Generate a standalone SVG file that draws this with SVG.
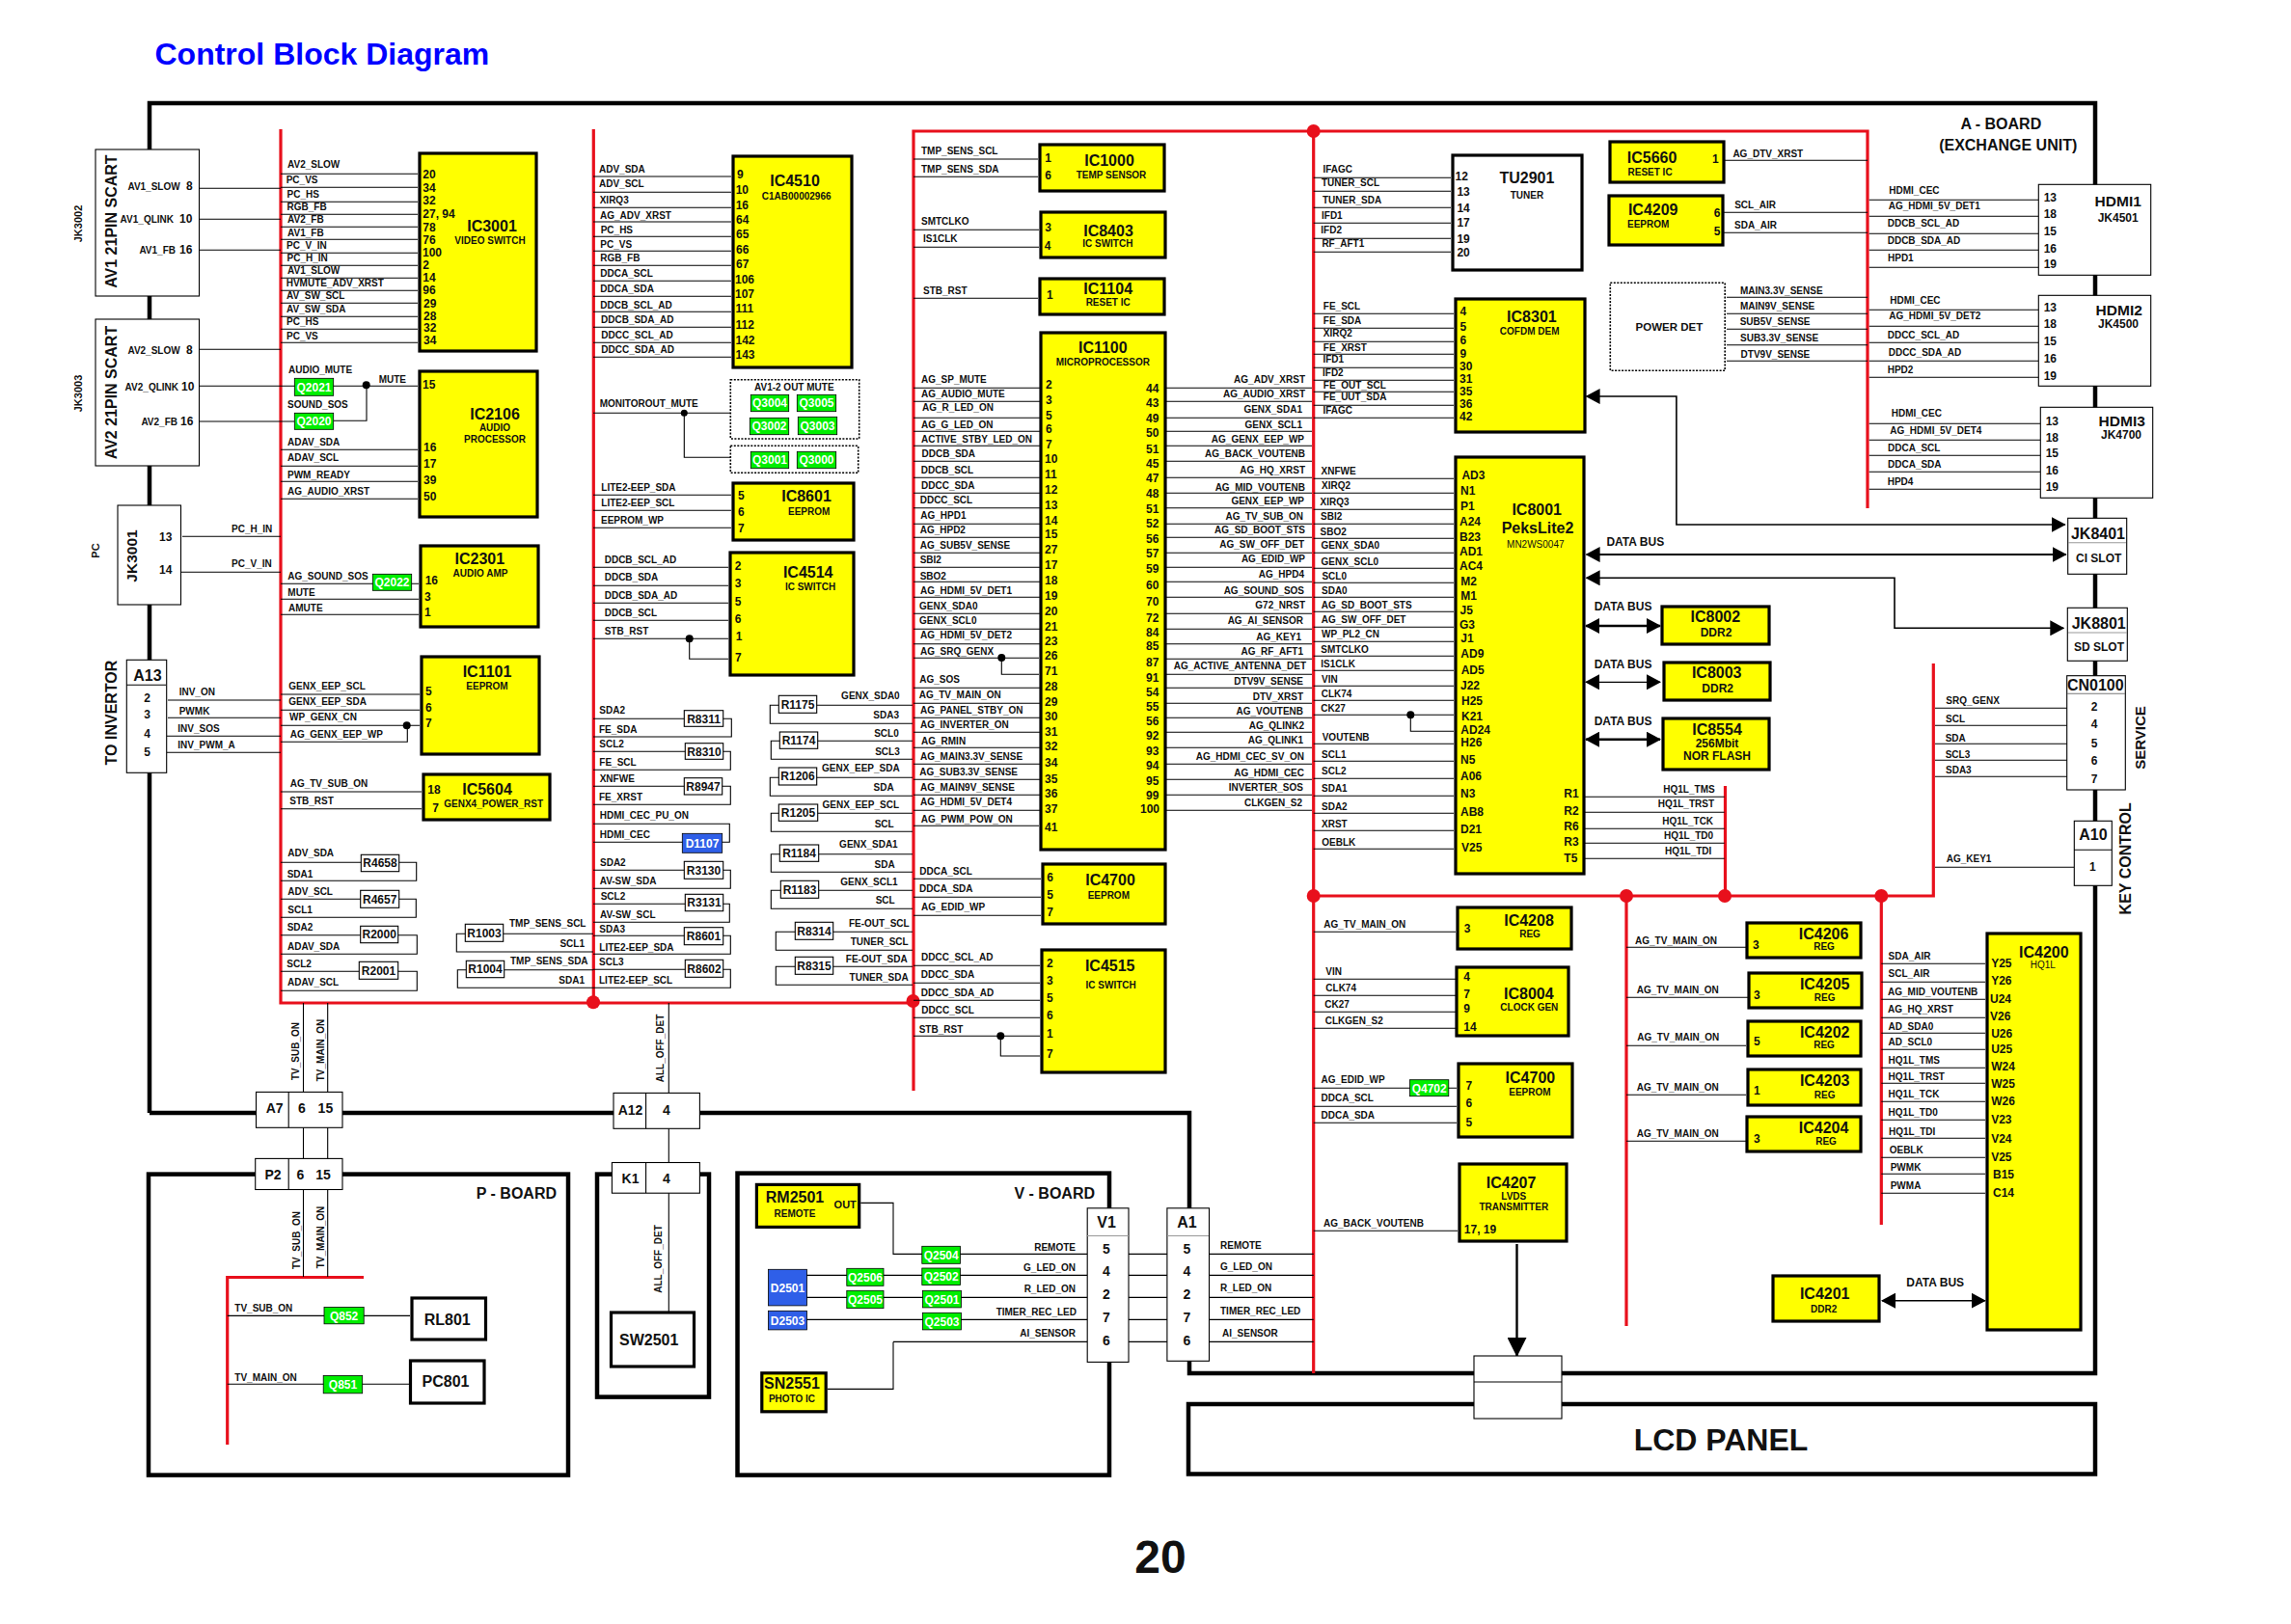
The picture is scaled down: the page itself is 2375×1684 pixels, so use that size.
<svg xmlns="http://www.w3.org/2000/svg" width="2375" height="1684" viewBox="0 0 2375 1684">
<style>
text{font-family:"Liberation Sans",Arial,sans-serif;font-weight:700;fill:#111}
.thin{fill:none;stroke:#000;stroke-width:1.1}
.fr{fill:none;stroke:#000;stroke-width:4.5}
.red{fill:none;stroke:#e8101c;stroke-width:3.2}
.rd{fill:#e8101c}
.d{fill:#000}
.ic{fill:#ff0;stroke:#000;stroke-width:3.2}
.wb{fill:#fff;stroke:#000;stroke-width:3.2}
.cb{fill:#fff;stroke:#000;stroke-width:1.1}
.dot{fill:none;stroke:#000;stroke-width:1.6;stroke-dasharray:2 1.5}
.q{fill:#0e0;stroke:#000;stroke-width:.8}
.b{fill:#2f5fe8;stroke:#000;stroke-width:.8}
.l{font-size:10px}
.p{font-size:12px}
.t{font-size:16px}
.s{font-size:10px}
.n{font-size:10px;font-weight:400}
.c{text-anchor:middle}
.e{text-anchor:end}
.qt{font-size:12px;fill:#fff;text-anchor:middle}
.r{font-size:12px;text-anchor:middle}
.h{font-size:12px}
.bt{font-size:16px}
.arrow{fill:none;stroke:#000;stroke-width:1.6;marker-end:url(#a);marker-start:url(#a)}
.arrow2{fill:none;stroke:#000;stroke-width:2.4;marker-end:url(#a);marker-start:url(#a)}
</style>
<defs>
<marker id="a" viewBox="0 0 15 16" refX="14" refY="8" markerWidth="15" markerHeight="16" markerUnits="userSpaceOnUse" orient="auto-start-reverse"><path d="M0 0L15 8L0 16Z"/></marker>
<marker id="b" viewBox="0 0 20 20" refX="19" refY="10" markerWidth="20" markerHeight="20" markerUnits="userSpaceOnUse" orient="auto"><path d="M0 0L20 10L0 20Z"/></marker>
</defs>
<rect width="2375" height="1684" fill="#fff"/>
<text x="160.5" y="66.6" style="font-size:32px;fill:#00f">Control Block Diagram</text>
<text x="1203" y="1631" class="c" style="font-size:48px">20</text>
<text x="2074.3" y="134" class="c bt">A - BOARD</text>
<text x="2081.7" y="156" class="c bt">(EXCHANGE UNIT)</text>
<text x="577" y="1243" class="e bt">P - BOARD</text>
<text x="1135" y="1243" class="e bt">V - BOARD</text>
<g id="connectors">
<path class="fr" d="M155 1154V107H2172V1424H1233V1405M1233 1260V1154H155"/>
<rect class="fr" x="1232" y="1456" width="940" height="72.5"/>
<rect class="fr" x="154" y="1217.6" width="435" height="312"/>
<rect class="fr" x="619" y="1217.6" width="116" height="231"/>
<rect class="fr" x="764.5" y="1216.6" width="385.5" height="313"/>
<path class="red" d="M291 134V1040H946.7M615.3 134V1040M947 1131V136H1936V527M1361.7 136V1424M1361.7 929H2004.3V688M1686 929V1375M1788.5 929V815M1950.3 929V1270M235.7 1498V1324.5H377"/>
<g class="rd"><circle cx="615" cy="1039.3" r="7"/><circle cx="946.5" cy="1038" r="7"/><circle cx="1361.7" cy="136" r="7"/><circle cx="1361.7" cy="929" r="7"/><circle cx="1686" cy="929" r="7"/><circle cx="1788" cy="929" r="7"/><circle cx="1950.3" cy="929" r="7"/></g>
<g class="d"><circle cx="379.7" cy="399.3" r="4"/><circle cx="421.7" cy="752.3" r="4"/><circle cx="709.3" cy="428.3" r="3.5"/><circle cx="714.7" cy="662.3" r="4"/><circle cx="1038.3" cy="682" r="4"/><circle cx="1037.3" cy="1074.3" r="4"/><circle cx="1462.3" cy="741.3" r="4"/></g>
<path class="thin" d="M207 195.3H291M207 227.3H291M207 259.3H291M207 362.3H291M207 400.3H433M207 437H305M346 436.3H380V400M189 556.3H291M188 593.3H291M174 726H291M174 744.3H291M173 763.3H291M173 780.3H291
M291 180.3H433M291 194.3H433M291 209.3H433M291 222.3H433M291 235.3H433M291 248.3H433M291 262.3H433M291 275.3H433M291 288.3H433M291 301.3H433M291 314.3H433M291 328.3H433M291 341.3H433M291 355.3H433
M291 466.3H433M291 483.3H433M291 499.3H433M291 517.3H433M291 605.3H434M291 621.3H434M291 637.3H434M291 720H435M291 736.3H435M291 752.3H435M291 769.3H422.3V752.3M291 821H437M291 838.7H437
M291 894.3H431.7V913.3H291M291 932.3H431.3V951.3H291M291 969.7H432.3V989.3H291M291 1007.3H432.3V1027.3H291
M615 968.3H473.3V987H615M615 1005.7H474.3V1024.3H615
M615 183H758M615 199.3H758M615 215.3H758M615 230H758M615 245.3H758M615 260.3H758M615 275.3H758M615 291.3H758M615 307.3H758M615 323.3H758M615 339.3H758M615 355.3H758M615 370.3H758
M615 428.3H757M709.3 428.3V474.3H757M615 513.3H758M615 529.3H758M615 547.3H758M615 588.3H755M615 607.3H755M615 625.3H755M615 643.3H755M615 662.3H755M714.7 662.3V683.3H755
M615 745.3H758.3V764H615M615 779.3H757.3V798.3H615M615 815.3H757.3V834.3H615M615 854.3H756.3V873.3H615M615 902.3H757.3V921.3H615M615 937.3H756.3V956.3H615M615 970.3H757.3V989.3H615M615 1005.3H757.3V1024.3H615
M946 731.3H798.3V750.3H946M946 768.3H799.3V787.3H946M946 806.3H798.3V825.3H946M946 843.3H799.3V862.3H946M946 885.7H799.3V904.3H946M946 923.3H799.3V942.3H946M946 966.3H804.3V985.3H946M946 1002.3H804.3V1021.3H946
M947 165H1076M947 183.3H1076M947 238.3H1077M947 256.3H1077M947 309.3H1076
M947 402.3H1360M947 416.3H1360M947 433.3H1360M947 447.3H1360M947 462.3H1360M947 478.3H1360M947 495.3H1360M947 511.3H1360M947 526.7H1360M947 543.3H1360M947 557.3H1360M947 573.3H1360M947 588.3H1360M947 603.3H1360M947 619.3H1360M947 636.3H1360M947 652.3H1360M947 667.7H1360M947 682.3H1077M1038.3 682.3V699.3H1077M1209 683.3H1360M1209 699.3H1360M947 713.3H1360M947 729.3H1360M947 744.3H1360M947 759.3H1360M947 775.3H1360M947 792.3H1360M947 808.3H1360M947 824.3H1360M947 840.3H1360M947 856.3H1077
M947 911.3H1079M947 930.3H1079M947 949.3H1079M947 1001.3H1078M947 1019.3H1078M947 1037.3H1078M947 1055.3H1078M947 1074.3H1078M1037.3 1074.3V1095H1078
M1361.7 184.3H1504M1361.7 198.3H1504M1361.7 215.3H1504M1361.7 231.3H1504M1361.7 247.3H1504M1361.7 261.3H1504
M1788 166.3H1936M1787 220.3H1936M1787 241.3H1936M1790 308.3H1936M1790 325.3H1936M1790 341.3H1936M1790 357.7H1936M1790 374.3H1936
M1361.7 325.3H1507M1361.7 340.3H1507M1361.7 354.3H1507M1361.7 367.3H1507M1361.7 381.3H1507M1361.7 394.3H1507M1361.7 406.3H1507M1361.7 420.3H1507M1361.7 433.3H1507
M1361.7 496.3H1507M1361.7 511.3H1507M1361.7 528.3H1507M1361.7 543.3H1507M1361.7 558.3H1507M1361.7 573.3H1507M1361.7 589.3H1507M1361.7 604.3H1507M1361.7 619.3H1507M1361.7 634.3H1507M1361.7 650.3H1507M1361.7 665.3H1507M1361.7 680.3H1507M1361.7 695.3H1507M1361.7 711.3H1507M1361.7 726.3H1507M1361.7 741.3H1507M1462.3 741.3V758.3H1507M1361.7 771.3H1507M1361.7 789.3H1507M1361.7 807.3H1507M1361.7 825.3H1507M1361.7 843.3H1507M1361.7 861.3H1507M1361.7 880.3H1507
M1643 826.3H1787.7M1643 842.3H1787.7M1643 859.3H1787.7M1643 874.3H1787.7M1643 890.3H1787.7
M1361.7 966.3H1509M1361.7 1015.3H1509M1361.7 1032.3H1509M1361.7 1049.3H1509M1361.7 1066.3H1509M1361.7 1128.3H1510M1361.7 1147.3H1510M1361.7 1164.3H1510M1361.7 1276.3H1511
M1686 982.3H1810M1686 1034.3H1812M1686 1084.3H1810M1686 1135.3H1810M1686 1183.3H1810
M1950.3 999.3H2058M1950.3 1018.3H2058M1950.3 1036.3H2058M1950.3 1055.3H2058M1950.3 1071.3H2058M1950.3 1088.3H2058M1950.3 1107.3H2058M1950.3 1123.3H2058M1950.3 1142.3H2058M1950.3 1161.3H2058M1950.3 1180.3H2058M1950.3 1200.3H2058M1950.3 1217.3H2058M1950.3 1237.3H2058
M1937.7 207.3H2113M1937.7 224.3H2113M1937.7 242.3H2113M1937.7 259.3H2113M1937.7 277.3H2113M1937.7 321.3H2113M1937.7 338.3H2113M1937.7 355.3H2113M1937.7 374.3H2113M1937.7 391.3H2113M1937.7 439.3H2115M1937.7 456.3H2115M1937.7 472.3H2115M1937.7 489.3H2115M1937.7 507.3H2115
M2006 734.3H2143M2006 752.3H2143M2006 771.3H2143M2006 788.3H2143M2006 805.3H2143M2006 899.3H2150
M314.5 1040V1132M339.7 1040V1132M314.5 1169V1201M339.7 1169V1201M314.5 1233V1324M339.7 1233V1324M693.3 1040V1133M693.3 1170V1205M693.3 1237V1360
M235.7 1364.4H425M235.7 1435.3H424
M892.3 1247.4H926V1300.4H1127M836 1322.4H1127M836 1345.4H1127M836 1368.4H1127M926 1391.4H1127M926 1391.4V1440.4H857.8M1170 1300.4H1210M1170 1322.4H1210M1170 1345.4H1210M1170 1368.4H1210M1170 1391.4H1210M1253 1300.4H1361.7M1253 1322.4H1361.7M1253 1345.4H1361.7M1253 1368.4H1361.7M1253 1391.4H1361.7"/>
<path class="arrow" d="M2140.7 544H1737.9V411H1644.6"/>
<path class="arrow2" d="M1644.6 575H2141.7" style="stroke-width:2"/>
<path class="arrow" d="M1644.6 599.3H1964V651.3H2139.3"/>
<path class="arrow2" d="M1644 649H1721"/>
<path class="arrow2" d="M1644 707.3H1721" style="stroke-width:1.2"/>
<path class="arrow2" d="M1644 766.7H1721"/>
<path class="arrow2" d="M1951 1348.7H2057.8" style="stroke-width:1.6"/>
<path d="M1572.5 1290V1406" style="fill:none;stroke:#000;stroke-width:2.4;marker-end:url(#b)"/>
<g class="l">
<text x="298" y="174">AV2_SLOW</text><text x="296.7" y="190">PC_VS</text><text x="297.5" y="205">PC_HS</text><text x="297.5" y="218.3">RGB_FB</text><text x="298" y="231.3">AV2_FB</text><text x="298" y="245.3">AV1_FB</text><text x="297" y="258.3">PC_V_IN</text><text x="297.5" y="271.3">PC_H_IN</text><text x="298" y="284.3">AV1_SLOW</text><text x="296.7" y="297.3">HVMUTE_ADV_XRST</text><text x="297" y="310.3">AV_SW_SCL</text><text x="297" y="324.3">AV_SW_SDA</text><text x="297" y="337.3">PC_HS</text><text x="297" y="352.3">PC_VS</text>
<text x="299" y="387">AUDIO_MUTE</text><text x="392.7" y="397">MUTE</text><text x="298" y="423.3">SOUND_SOS</text><text x="298" y="462">ADAV_SDA</text><text x="298" y="478.3">ADAV_SCL</text><text x="298" y="496">PWM_READY</text><text x="298" y="513.3">AG_AUDIO_XRST</text>
<text x="240" y="552">PC_H_IN</text><text x="240" y="588">PC_V_IN</text><text x="298.3" y="601">AG_SOUND_SOS</text><text x="298.3" y="618">MUTE</text><text x="299" y="634">AMUTE</text>
<text x="185.7" y="721">INV_ON</text><text x="185.7" y="741">PWMK</text><text x="184.3" y="759">INV_SOS</text><text x="184.3" y="776">INV_PWM_A</text>
<text x="299.3" y="715">GENX_EEP_SCL</text><text x="299.3" y="731">GENX_EEP_SDA</text><text x="300" y="747">WP_GENX_CN</text><text x="300.7" y="765">AG_GENX_EEP_WP</text><text x="300.7" y="816">AG_TV_SUB_ON</text><text x="300.3" y="834">STB_RST</text>
<text x="298.3" y="888">ADV_SDA</text><text x="297.7" y="910">SDA1</text><text x="298.3" y="928">ADV_SCL</text><text x="298.3" y="947">SCL1</text><text x="297.7" y="965">SDA2</text><text x="298" y="985">ADAV_SDA</text><text x="297.3" y="1003">SCL2</text><text x="298" y="1022">ADAV_SCL</text>
<text x="528" y="961">TMP_SENS_SCL</text><text x="606" y="982" class="e">SCL1</text><text x="529" y="1000">TMP_SENS_SDA</text><text x="606" y="1020" class="e">SDA1</text>
<text x="621" y="178.7">ADV_SDA</text><text x="621" y="194">ADV_SCL</text><text x="621.7" y="211">XIRQ3</text><text x="622" y="227">AG_ADV_XRST</text><text x="622.7" y="242">PC_HS</text><text x="622.3" y="257">PC_VS</text><text x="622.3" y="271">RGB_FB</text><text x="622.3" y="287">DDCA_SCL</text><text x="622.3" y="303">DDCA_SDA</text><text x="622.3" y="320">DDCB_SCL_AD</text><text x="623" y="335">DDCB_SDA_AD</text><text x="623.3" y="351">DDCC_SCL_AD</text><text x="623.3" y="366">DDCC_SDA_AD</text>
<text x="621.7" y="422">MONITOROUT_MUTE</text><text x="623.3" y="509">LITE2-EEP_SDA</text><text x="623.3" y="525">LITE2-EEP_SCL</text><text x="623" y="543">EEPROM_WP</text><text x="626.7" y="584">DDCB_SCL_AD</text><text x="626.7" y="602">DDCB_SDA</text><text x="626.7" y="621">DDCB_SDA_AD</text><text x="626.7" y="639">DDCB_SCL</text><text x="626.7" y="657.7">STB_RST</text>
<text x="621.3" y="740">SDA2</text><text x="621" y="760">FE_SDA</text><text x="621.3" y="775">SCL2</text><text x="621.3" y="794">FE_SCL</text><text x="621.7" y="811">XNFWE</text><text x="621" y="830">FE_XRST</text><text x="621.7" y="849">HDMI_CEC_PU_ON</text><text x="621.7" y="869">HDMI_CEC</text><text x="622" y="898">SDA2</text><text x="621.7" y="917">AV-SW_SDA</text><text x="622.7" y="933">SCL2</text><text x="622" y="952">AV-SW_SCL</text><text x="621.3" y="967">SDA3</text><text x="621.3" y="986">LITE2-EEP_SDA</text><text x="621" y="1001">SCL3</text><text x="621" y="1020">LITE2-EEP_SCL</text>
</g>
<g class="l">
<g style="text-anchor:end"><text x="932.7" y="725">GENX_SDA0</text><text x="932" y="745">SDA3</text><text x="931.7" y="764">SCL0</text><text x="932.7" y="783">SCL3</text><text x="932.7" y="800">GENX_EEP_SDA</text><text x="926.7" y="820">SDA</text><text x="932" y="838">GENX_EEP_SCL</text><text x="926.7" y="858">SCL</text><text x="930.7" y="879">GENX_SDA1</text><text x="927.7" y="900">SDA</text><text x="930.7" y="918">GENX_SCL1</text><text x="927.7" y="937">SCL</text><text x="942.7" y="961">FE-OUT_SCL</text><text x="941.7" y="980">TUNER_SCL</text><text x="940.7" y="998">FE-OUT_SDA</text><text x="941.7" y="1017">TUNER_SDA</text>
<text x="1353" y="397">AG_ADV_XRST</text><text x="1353" y="412">AG_AUDIO_XRST</text><text x="1350" y="428">GENX_SDA1</text><text x="1350" y="444">GENX_SCL1</text><text x="1352" y="459">AG_GENX_EEP_WP</text><text x="1353" y="474">AG_BACK_VOUTENB</text><text x="1353" y="491">AG_HQ_XRST</text><text x="1353" y="509">AG_MID_VOUTENB</text><text x="1352" y="523">GENX_EEP_WP</text><text x="1351" y="539">AG_TV_SUB_ON</text><text x="1353" y="553">AG_SD_BOOT_STS</text><text x="1352" y="568">AG_SW_OFF_DET</text><text x="1353" y="583">AG_EDID_WP</text><text x="1352" y="599">AG_HPD4</text><text x="1352" y="616">AG_SOUND_SOS</text><text x="1353" y="631">G72_NRST</text><text x="1351" y="647">AG_AI_SENSOR</text><text x="1349" y="664">AG_KEY1</text><text x="1351" y="679">AG_RF_AFT1</text><text x="1354" y="694">AG_ACTIVE_ANTENNA_DET</text><text x="1351" y="710">DTV9V_SENSE</text><text x="1351" y="726">DTV_XRST</text><text x="1351" y="741">AG_VOUTENB</text><text x="1352" y="756">AG_QLINK2</text><text x="1351" y="771">AG_QLINK1</text><text x="1352" y="788">AG_HDMI_CEC_SV_ON</text><text x="1352" y="805">AG_HDMI_CEC</text><text x="1351" y="820">INVERTER_SOS</text><text x="1350" y="836">CLKGEN_S2</text>
<text x="1115" y="1297">REMOTE</text><text x="1115" y="1317.7">G_LED_ON</text><text x="1115" y="1340.3">R_LED_ON</text><text x="1116" y="1363.7">TIMER_REC_LED</text><text x="1115" y="1385.6">AI_SENSOR</text>
</g>
<text x="955" y="160">TMP_SENS_SCL</text><text x="955" y="179">TMP_SENS_SDA</text><text x="955" y="233">SMTCLKO</text><text x="957" y="251">IS1CLK</text><text x="957" y="305">STB_RST</text>
<text x="955" y="397">AG_SP_MUTE</text><text x="955" y="412">AG_AUDIO_MUTE</text><text x="956" y="426">AG_R_LED_ON</text><text x="955" y="444">AG_G_LED_ON</text><text x="955" y="459">ACTIVE_STBY_LED_ON</text><text x="955.5" y="474">DDCB_SDA</text><text x="954.7" y="491">DDCB_SCL</text><text x="955" y="507">DDCC_SDA</text><text x="953.7" y="522">DDCC_SCL</text><text x="954.3" y="538">AG_HPD1</text><text x="953.7" y="553">AG_HPD2</text><text x="953.7" y="569">AG_SUB5V_SENSE</text><text x="953.7" y="584">SBI2</text><text x="953.7" y="601">SBO2</text><text x="954" y="616">AG_HDMI_5V_DET1</text><text x="953" y="632">GENX_SDA0</text><text x="953" y="647">GENX_SCL0</text><text x="954" y="662">AG_HDMI_5V_DET2</text><text x="954" y="679">AG_SRQ_GENX</text><text x="953.3" y="708">AG_SOS</text><text x="952.7" y="724">AG_TV_MAIN_ON</text><text x="954" y="740">AG_PANEL_STBY_ON</text><text x="954" y="755">AG_INVERTER_ON</text><text x="955" y="772">AG_RMIN</text><text x="954" y="788">AG_MAIN3.3V_SENSE</text><text x="953.3" y="804">AG_SUB3.3V_SENSE</text><text x="954" y="820">AG_MAIN9V_SENSE</text><text x="954" y="835">AG_HDMI_5V_DET4</text><text x="954.7" y="853">AG_PWM_POW_ON</text>
<text x="953.3" y="907">DDCA_SCL</text><text x="953" y="925">DDCA_SDA</text><text x="955" y="944">AG_EDID_WP</text><text x="955" y="996">DDCC_SCL_AD</text><text x="954.7" y="1014">DDCC_SDA</text><text x="954.7" y="1033">DDCC_SDA_AD</text><text x="955.3" y="1051">DDCC_SCL</text><text x="952.7" y="1071">STB_RST</text>
<text x="1371.4" y="179">IFAGC</text><text x="1370" y="193">TUNER_SCL</text><text x="1371" y="211">TUNER_SDA</text><text x="1370" y="227">IFD1</text><text x="1369.3" y="242">IFD2</text><text x="1370.4" y="256">RF_AFT1</text>
<text x="1796.4" y="162.7">AG_DTV_XRST</text><text x="1798.2" y="216">SCL_AIR</text><text x="1798" y="237">SDA_AIR</text><text x="1804" y="305">MAIN3.3V_SENSE</text><text x="1804" y="321">MAIN9V_SENSE</text><text x="1803.7" y="337">SUB5V_SENSE</text><text x="1804" y="354">SUB3.3V_SENSE</text><text x="1804.6" y="371">DTV9V_SENSE</text>
<text x="1371.8" y="321">FE_SCL</text><text x="1371.8" y="336">FE_SDA</text><text x="1371.8" y="349">XIRQ2</text><text x="1371.8" y="364">FE_XRST</text><text x="1371.4" y="376">IFD1</text><text x="1371" y="390">IFD2</text><text x="1371.8" y="403">FE_OUT_SCL</text><text x="1371.8" y="415">FE_UUT_SDA</text><text x="1371.4" y="429">IFAGC</text>
<text x="1369.6" y="492">XNFWE</text><text x="1370" y="507">XIRQ2</text><text x="1368.6" y="524">XIRQ3</text><text x="1369" y="539">SBI2</text><text x="1368.6" y="555">SBO2</text><text x="1369.6" y="569">GENX_SDA0</text><text x="1369.6" y="586">GENX_SCL0</text><text x="1370.4" y="601">SCL0</text><text x="1370" y="616">SDA0</text><text x="1369.7" y="631">AG_SD_BOOT_STS</text><text x="1369.7" y="646">AG_SW_OFF_DET</text><text x="1370" y="661">WP_PL2_CN</text><text x="1369.3" y="677">SMTCLKO</text><text x="1369.3" y="692">IS1CLK</text><text x="1370" y="708">VIN</text><text x="1369.7" y="723">CLK74</text><text x="1369.3" y="738">CK27</text><text x="1370.7" y="768">VOUTENB</text><text x="1370" y="786">SCL1</text><text x="1370" y="803">SCL2</text><text x="1370" y="821">SDA1</text><text x="1370" y="840">SDA2</text><text x="1370" y="858">XRST</text><text x="1370.3" y="877">OEBLK</text>
<text x="1724.3" y="822">HQ1L_TMS</text><text x="1718.7" y="837">HQ1L_TRST</text><text x="1723.3" y="855">HQ1L_TCK</text><text x="1725" y="870">HQ1L_TD0</text><text x="1726" y="886">HQ1L_TDI</text>
<text x="1372.3" y="962">AG_TV_MAIN_ON</text><text x="1374.3" y="1011">VIN</text><text x="1374.3" y="1028">CLK74</text><text x="1373.2" y="1045">CK27</text><text x="1373.7" y="1062">CLKGEN_S2</text><text x="1369.5" y="1123">AG_EDID_WP</text><text x="1369.5" y="1142">DDCA_SCL</text><text x="1369.5" y="1160">DDCA_SDA</text><text x="1372" y="1272">AG_BACK_VOUTENB</text>
<text x="1695" y="979.3">AG_TV_MAIN_ON</text><text x="1696.7" y="1030.3">AG_TV_MAIN_ON</text><text x="1697.3" y="1079.3">AG_TV_MAIN_ON</text><text x="1696.7" y="1131.3">AG_TV_MAIN_ON</text><text x="1696.7" y="1179.3">AG_TV_MAIN_ON</text>
<text x="1957.6" y="995">SDA_AIR</text><text x="1957.6" y="1013">SCL_AIR</text><text x="1957" y="1032">AG_MID_VOUTENB</text><text x="1957" y="1050">AG_HQ_XRST</text><text x="1957.6" y="1068">AD_SDA0</text><text x="1957.6" y="1084">AD_SCL0</text><text x="1957.6" y="1103">HQ1L_TMS</text><text x="1957.6" y="1120">HQ1L_TRST</text><text x="1957.6" y="1138">HQ1L_TCK</text><text x="1957.6" y="1157">HQ1L_TD0</text><text x="1958" y="1177">HQ1L_TDI</text><text x="1958.7" y="1196">OEBLK</text><text x="1959.7" y="1214">PWMK</text><text x="1959.7" y="1233">PWMA</text>
<text x="1958.3" y="201">HDMI_CEC</text><text x="1957.7" y="217">AG_HDMI_5V_DET1</text><text x="1956.7" y="235">DDCB_SCL_AD</text><text x="1956.7" y="253">DDCB_SDA_AD</text><text x="1957" y="271">HPD1</text>
<text x="1959.3" y="315">HDMI_CEC</text><text x="1958.3" y="331">AG_HDMI_5V_DET2</text><text x="1956.7" y="351">DDCC_SCL_AD</text><text x="1957.7" y="369">DDCC_SDA_AD</text><text x="1956.7" y="387">HPD2</text>
<text x="1960.7" y="432">HDMI_CEC</text><text x="1959.3" y="450">AG_HDMI_5V_DET4</text><text x="1957" y="468">DDCA_SCL</text><text x="1957" y="485">DDCA_SDA</text><text x="1956.7" y="503">HPD4</text>
<text x="2017.3" y="730">SRQ_GENX</text><text x="2017" y="749">SCL</text><text x="2016.7" y="769">SDA</text><text x="2016.7" y="786">SCL3</text><text x="2017" y="802">SDA3</text><text x="2017.7" y="894">AG_KEY1</text>
<text x="243.3" y="1359.6">TV_SUB_ON</text><text x="243.3" y="1432">TV_MAIN_ON</text>
<text x="1265" y="1294.7">REMOTE</text><text x="1265" y="1316.7">G_LED_ON</text><text x="1265" y="1338.7">R_LED_ON</text><text x="1265" y="1362.7">TIMER_REC_LED</text><text x="1267" y="1385.6">AI_SENSOR</text>
<g style="text-anchor:middle"><text transform="rotate(-90 310 1090)" x="310" y="1090">TV_SUB_ON</text><text transform="rotate(-90 336 1089)" x="336" y="1089">TV_MAIN_ON</text><text transform="rotate(-90 310.7 1286)" x="310.7" y="1286">TV_SUB_ON</text><text transform="rotate(-90 336 1283)" x="336" y="1283">TV_MAIN_ON</text><text transform="rotate(-90 688 1087)" x="688" y="1087">ALL_OFF_DET</text><text transform="rotate(-90 686.4 1305.5)" x="686.4" y="1305.5">ALL_OFF_DET</text></g>
</g>
<g id="labels-data-bus" class="h"><text x="1665.4" y="566">DATA BUS</text><text x="1652.7" y="633.3">DATA BUS</text><text x="1652.7" y="693.3">DATA BUS</text><text x="1652.7" y="752.3">DATA BUS</text><text x="1976.3" y="1334.3">DATA BUS</text></g>
</g>
<g id="AV1" class="p"><rect class="cb" x="99" y="155" width="107.5" height="152"/><text transform="rotate(-90 121 229.6)" x="121" y="229.6" class="c t">AV1 21PIN SCART</text><text x="186.7" y="197.3" class="e s">AV1_SLOW</text><text x="193" y="197.3">8</text><text x="180" y="231" class="e s">AV1_QLINK</text><text x="186" y="231">10</text><text x="182" y="263" class="e s">AV1_FB</text><text x="186" y="263">16</text><text transform="rotate(-90 85 232)" x="85" y="232" class="c" style="font-size:11px">JK3002</text></g>
<g id="AV2" class="p"><rect class="cb" x="99" y="331" width="107.5" height="152"/><text transform="rotate(-90 121 407)" x="121" y="407" class="c t">AV2 21PIN SCART</text><text x="186.7" y="367.3" class="e s">AV2_SLOW</text><text x="193" y="367.3">8</text><text x="185" y="405" class="e s">AV2_QLINK</text><text x="188" y="405">10</text><text x="184" y="441" class="e s">AV2_FB</text><text x="187" y="441">16</text><text transform="rotate(-90 85 408)" x="85" y="408" class="c" style="font-size:11px">JK3003</text></g>
<g id="JK3001" class="p"><rect class="cb" x="122" y="524" width="65.5" height="103"/><text transform="rotate(-90 141.7 576.5)" x="141.7" y="576.5" class="c" style="font-size:15.5px">JK3001</text><text x="165" y="561">13</text><text x="165" y="595">14</text><text transform="rotate(-90 103 571)" x="103" y="571" class="c" style="font-size:11px">PC</text></g>
<g id="A13" class="p"><rect class="cb" x="131.3" y="684.3" width="41.4" height="117"/><path class="thin" d="M131 710.3H172"/><text x="153" y="706" class="c t">A13</text><g style="text-anchor:middle"><text x="152.7" y="727.7">2</text><text x="152.7" y="745">3</text><text x="152.7" y="764.7">4</text><text x="152.7" y="784">5</text></g><text transform="rotate(-90 121.3 739)" x="121.3" y="739" class="c t">TO INVERTOR</text></g>
<g id="IC3001" class="p"><rect class="ic" x="435" y="159" width="121" height="205"/><text x="510" y="240" class="c t">IC3001</text><text x="508" y="252.7" class="c s">VIDEO SWITCH</text><text x="438.3" y="184.7">20</text><text x="438.3" y="199">34</text><text x="438.3" y="212">32</text><text x="438.3" y="226">27, 94</text><text x="438.3" y="240">78</text><text x="438.3" y="253">76</text><text x="438" y="266">100</text><text x="438.3" y="279">2</text><text x="438.3" y="292">14</text><text x="438.3" y="305">96</text><text x="439" y="319">29</text><text x="439" y="332">28</text><text x="439" y="344">32</text><text x="439" y="357">34</text></g>
<g id="IC2106" class="p"><rect class="ic" x="435" y="385" width="122" height="151"/><text x="513" y="435" class="c t">IC2106</text><text x="513" y="447.3" class="c s">AUDIO</text><text x="513" y="459.3" class="c s">PROCESSOR</text><text x="438" y="402.7">15</text><text x="439" y="467.7">16</text><text x="439" y="484.7">17</text><text x="439" y="501.7">39</text><text x="439" y="518.7">50</text></g>
<g id="IC2301" class="p"><rect class="ic" x="436" y="566" width="122" height="84"/><text x="497.3" y="585" class="c t">IC2301</text><text x="498" y="597.7" class="c s">AUDIO AMP</text><text x="440.7" y="606">16</text><text x="440" y="623.3">3</text><text x="440" y="638.7">1</text></g>
<g id="IC1101" class="p"><rect class="ic" x="437" y="681" width="122" height="101"/><text x="505" y="701.7" class="c t">IC1101</text><text x="505" y="714.7" class="c s">EEPROM</text><text x="441" y="721">5</text><text x="441" y="737.7">6</text><text x="441" y="754.3">7</text></g>
<g id="IC5604" class="p"><rect class="ic" x="439" y="803" width="131" height="47"/><text x="505" y="824" class="c t">IC5604</text><text x="511.7" y="836.7" class="c s">GENX4_POWER_RST</text><text x="443.3" y="822.7">18</text><text x="448.3" y="841.7">7</text></g>
<g id="Q2021"><rect class="q" x="305.3" y="392.3" width="40.4" height="18"/><text x="325.5" y="405.5" class="qt">Q2021</text></g>
<g id="Q2020"><rect class="q" x="305.3" y="428.3" width="40.4" height="17"/><text x="325.5" y="441" class="qt">Q2020</text></g>
<g id="Q2022"><rect class="q" x="386.3" y="595.3" width="40.4" height="17"/><text x="406.5" y="608" class="qt">Q2022</text></g>
<g id="R4658"><rect class="cb" x="374.3" y="886.3" width="39.4" height="17.4"/><text x="394" y="899" class="r">R4658</text></g>
<g id="R4657"><rect class="cb" x="373.7" y="923.3" width="40" height="18"/><text x="393.7" y="936.5" class="r">R4657</text></g>
<g id="R2000"><rect class="cb" x="373.7" y="960.3" width="39" height="17.4"/><text x="393.2" y="973" class="r">R2000</text></g>
<g id="R2001"><rect class="cb" x="372.3" y="997.3" width="40.4" height="18"/><text x="392.5" y="1010.5" class="r">R2001</text></g>
<g id="R1003"><rect class="cb" x="482.3" y="958.3" width="39.4" height="18"/><text x="502" y="971.5" class="r">R1003</text></g>
<g id="R1004"><rect class="cb" x="483.3" y="996.3" width="39.4" height="17.4"/><text x="503" y="1009" class="r">R1004</text></g>
<g id="IC4510" class="p"><rect class="ic" x="760" y="162" width="123" height="219"/><text x="824" y="192.7" class="c t">IC4510</text><text x="825.7" y="206.7" class="c s">C1AB00002966</text><text x="764" y="185.3">9</text><text x="762.7" y="200.7">10</text><text x="762.7" y="216.7">16</text><text x="763" y="231.7">64</text><text x="763" y="246.7">65</text><text x="763" y="262.7">66</text><text x="763" y="277.7">67</text><text x="762" y="293.7">106</text><text x="762" y="308.7">107</text><text x="762.5" y="323.7">111</text><text x="762.5" y="340.7">112</text><text x="762.5" y="356.7">142</text><text x="762.5" y="371.7">143</text></g>
<g id="AV1-2-OUT-MUTE"><rect class="dot" x="757.3" y="393.7" width="133.4" height="61.3"/><text x="823.3" y="405" class="c s">AV1-2 OUT MUTE</text><rect class="q" x="778.3" y="409.3" width="39.4" height="17.4"/><text x="798" y="422" class="qt">Q3004</text><rect class="q" x="826.3" y="409.3" width="40.4" height="17.4"/><text x="846.5" y="422" class="qt">Q3005</text><rect class="q" x="777.3" y="433.3" width="40.4" height="17.4"/><text x="797.5" y="446" class="qt">Q3002</text><rect class="q" x="827.3" y="432.3" width="40.4" height="18.4"/><text x="847.5" y="445.5" class="qt">Q3003</text></g>
<g id="OUT-MUTE-2"><rect class="dot" x="757.3" y="462.3" width="132.4" height="28"/><rect class="q" x="778.3" y="468.3" width="39.4" height="17.4"/><text x="798" y="481" class="qt">Q3001</text><rect class="q" x="826.3" y="468.3" width="40.4" height="17.4"/><text x="846.5" y="481" class="qt">Q3000</text></g>
<g id="IC8601" class="p"><rect class="ic" x="760" y="501" width="125" height="59"/><text x="836" y="520" class="c t">IC8601</text><text x="838.7" y="533.7" class="c s">EEPROM</text><text x="765" y="518.3">5</text><text x="765" y="535.3">6</text><text x="765" y="551.7">7</text></g>
<g id="IC4514" class="p"><rect class="ic" x="757" y="573" width="128" height="127"/><text x="837.7" y="599.3" class="c t">IC4514</text><text x="840" y="612" class="c s">IC SWITCH</text><text x="761.7" y="590.7">2</text><text x="761.7" y="609">3</text><text x="761.7" y="628">5</text><text x="761.7" y="646">6</text><text x="762.7" y="664">1</text><text x="762" y="685.7">7</text></g>
<g id="R8311"><rect class="cb" x="709.3" y="736.7" width="40.4" height="16.6"/><text x="729.5" y="749.5" class="r">R8311</text></g>
<g id="R8310"><rect class="cb" x="710.3" y="770.7" width="39.4" height="16.6"/><text x="730" y="783.5" class="r">R8310</text></g>
<g id="R8947"><rect class="cb" x="709.3" y="806.7" width="39.4" height="17.3"/><text x="729" y="819.5" class="r">R8947</text></g>
<g id="D1107"><rect class="b" x="707.3" y="864.3" width="41.4" height="20"/><text x="728" y="878.5" class="qt">D1107</text></g>
<g id="R3130"><rect class="cb" x="709.3" y="893.3" width="40.4" height="18"/><text x="729.5" y="906.5" class="r">R3130</text></g>
<g id="R3131"><rect class="cb" x="710.3" y="927.3" width="39.4" height="17.4"/><text x="730" y="940" class="r">R3131</text></g>
<g id="R8601"><rect class="cb" x="709.3" y="961.7" width="40.4" height="18"/><text x="729.5" y="975" class="r">R8601</text></g>
<g id="R8602"><rect class="cb" x="710.3" y="995.3" width="39.4" height="18"/><text x="730" y="1008.5" class="r">R8602</text></g>
<g id="R1175"><rect class="cb" x="807.3" y="721.3" width="39.4" height="18"/><text x="827" y="734.5" class="r">R1175</text></g>
<g id="R1174"><rect class="cb" x="808.3" y="759" width="39.4" height="17.3"/><text x="828" y="772" class="r">R1174</text></g>
<g id="R1206"><rect class="cb" x="807.3" y="796" width="39.4" height="18"/><text x="827" y="809" class="r">R1206</text></g>
<g id="R1205"><rect class="cb" x="807.3" y="834" width="40.4" height="17.3"/><text x="827.5" y="847" class="r">R1205</text></g>
<g id="R1184"><rect class="cb" x="808.3" y="876" width="40.4" height="17.3"/><text x="828.5" y="889" class="r">R1184</text></g>
<g id="R1183"><rect class="cb" x="809.3" y="913.3" width="39.4" height="18"/><text x="829" y="926.5" class="r">R1183</text></g>
<g id="R8314"><rect class="cb" x="824.3" y="956.3" width="39.4" height="18"/><text x="844" y="969.5" class="r">R8314</text></g>
<g id="R8315"><rect class="cb" x="824.3" y="992.3" width="39.4" height="18"/><text x="844" y="1005.5" class="r">R8315</text></g>
<g id="IC1000" class="p"><rect class="ic" x="1078" y="150" width="129" height="48"/><text x="1150" y="171.7" class="c t">IC1000</text><text x="1152" y="184.7" class="c s">TEMP SENSOR</text><text x="1083.3" y="167.7">1</text><text x="1083.3" y="185.7">6</text></g>
<g id="IC8403" class="p"><rect class="ic" x="1079" y="220" width="129" height="47"/><text x="1149" y="245" class="c t">IC8403</text><text x="1148.3" y="256" class="c s">IC SWITCH</text><text x="1083.3" y="240">3</text><text x="1082.7" y="259">4</text></g>
<g id="IC1104" class="p"><rect class="ic" x="1078" y="289" width="129" height="37"/><text x="1148.7" y="305" class="c t">IC1104</text><text x="1148.7" y="316.7" class="c s">RESET IC</text><text x="1085" y="309.7">1</text></g>
<g id="IC1100" class="p"><rect class="ic" x="1079" y="345" width="129" height="536"/><text x="1143.3" y="365.7" class="c t">IC1100</text><text x="1143.3" y="378.7" class="c s">MICROPROCESSOR</text>
<text x="1084" y="402.7">2</text><text x="1084" y="418.7">3</text><text x="1084" y="434.7">5</text><text x="1084" y="448.7">6</text><text x="1084" y="464.7">7</text><text x="1083" y="479.7">10</text><text x="1083" y="495.7">11</text><text x="1083" y="511.7">12</text><text x="1083" y="527.7">13</text><text x="1083" y="543.7">14</text><text x="1083" y="557.7">15</text><text x="1083" y="573.7">27</text><text x="1083" y="589.7">17</text><text x="1083" y="605.7">18</text><text x="1083" y="621.7">19</text><text x="1083" y="637.7">20</text><text x="1083" y="653.7">21</text><text x="1083" y="668.7">23</text><text x="1083" y="683.7">26</text><text x="1083" y="699.7">71</text><text x="1083" y="715.7">28</text><text x="1083" y="731.7">29</text><text x="1083" y="746.7">30</text><text x="1083" y="762.7">31</text><text x="1083" y="778.3">32</text><text x="1083" y="794.7">34</text><text x="1083" y="811.7">35</text><text x="1083" y="827.3">36</text><text x="1083" y="842.7">37</text><text x="1083" y="861.7">41</text>
<text x="1188" y="406.7">44</text><text x="1188" y="421.7">43</text><text x="1188" y="437.7">49</text><text x="1188" y="452.7">50</text><text x="1188" y="469.7">51</text><text x="1188" y="484.7">45</text><text x="1188" y="499.7">47</text><text x="1188" y="515.7">48</text><text x="1188" y="531.7">51</text><text x="1188" y="546.7">52</text><text x="1188" y="562.7">56</text><text x="1188" y="577.7">57</text><text x="1188" y="593.7">59</text><text x="1188" y="610.7">60</text><text x="1188" y="627.7">70</text><text x="1188" y="645">72</text><text x="1188" y="659.7">84</text><text x="1188" y="673.7">85</text><text x="1188" y="690.7">87</text><text x="1188" y="706.7">91</text><text x="1188" y="721.7">54</text><text x="1188" y="736.7">55</text><text x="1188" y="751.7">56</text><text x="1188" y="766.7">92</text><text x="1188" y="782.7">93</text><text x="1188" y="797.7">94</text><text x="1188" y="813.7">95</text><text x="1188" y="828.7">99</text><text x="1182" y="842.7">100</text></g>
<g id="IC4700-a" class="p"><rect class="ic" x="1081" y="896" width="127" height="62"/><text x="1151" y="917.7" class="c t">IC4700</text><text x="1149.3" y="931.7" class="c s">EEPROM</text><text x="1085.3" y="913.7">6</text><text x="1085.3" y="931.7">5</text><text x="1085.3" y="949.7">7</text></g>
<g id="IC4515" class="p"><rect class="ic" x="1080" y="985" width="128" height="127"/><text x="1150.7" y="1006.7" class="c t">IC4515</text><text x="1151.7" y="1024.7" class="c s">IC SWITCH</text><text x="1085" y="1003.3">2</text><text x="1085" y="1021.3">3</text><text x="1085" y="1039.3">5</text><text x="1085" y="1057.3">6</text><text x="1085" y="1075.7">1</text><text x="1085" y="1097.3">7</text></g>
<g id="TU2901" class="p"><rect class="wb" x="1506" y="161" width="134" height="119"/><text x="1582.9" y="190" class="c t">TU2901</text><text x="1582.9" y="205.7" class="c s">TUNER</text><text x="1508.6" y="186.7">12</text><text x="1510.4" y="202.7">13</text><text x="1510.4" y="219.7">14</text><text x="1510.4" y="234.7">17</text><text x="1510.4" y="251.7">19</text><text x="1510.4" y="265.7">20</text></g>
<g id="IC5660" class="p"><rect class="ic" x="1669" y="147" width="118" height="42"/><text x="1686.8" y="169" class="t">IC5660</text><text x="1687.5" y="181.7" class="s">RESET IC</text><text x="1775" y="169">1</text></g>
<g id="IC4209" class="p"><rect class="ic" x="1668" y="203" width="118" height="51"/><text x="1687.9" y="223.3" class="t">IC4209</text><text x="1687" y="236" class="s">EEPROM</text><text x="1776.8" y="225.3">6</text><text x="1776.8" y="243.7">5</text></g>
<g id="POWER-DET"><rect class="dot" x="1669.3" y="293.3" width="118.9" height="91"/><text x="1730.4" y="342.7" class="c" style="font-size:11.5px">POWER DET</text></g>
<g id="IC8301" class="p"><rect class="ic" x="1509" y="310" width="134" height="138"/><text x="1587.9" y="334" class="c t">IC8301</text><text x="1585.7" y="346.7" class="c s">COFDM DEM</text><text x="1513.6" y="327.3">4</text><text x="1513.6" y="343.3">5</text><text x="1513.6" y="357.3">6</text><text x="1513.6" y="371.3">9</text><text x="1513" y="384.3">30</text><text x="1513" y="397.3">31</text><text x="1513" y="410.3">35</text><text x="1513" y="423.3">36</text><text x="1513" y="436.3">42</text></g>
<g id="IC8001" class="p"><rect class="ic" x="1509" y="474" width="133" height="432"/><text x="1593.2" y="534" class="c t">IC8001</text><text x="1594" y="552.7" class="c t">PeksLite2</text><text x="1591.8" y="567.7" class="c n">MN2WS0047</text>
<text x="1515.4" y="496.7">AD3</text><text x="1514" y="512.7">N1</text><text x="1514" y="528.7">P1</text><text x="1513" y="544.7">A24</text><text x="1513" y="560.7">B23</text><text x="1513" y="575.7">AD1</text><text x="1513" y="590.7">AC4</text><text x="1514.3" y="606.7">M2</text><text x="1514.3" y="621.7">M1</text><text x="1513.5" y="636.7">J5</text><text x="1513" y="651.7">G3</text><text x="1514.3" y="665.7">J1</text><text x="1514.3" y="681.7">AD9</text><text x="1514.7" y="698.7">AD5</text><text x="1514" y="714.7">J22</text><text x="1515" y="730.7">H25</text><text x="1515" y="746.7">K21</text><text x="1514.3" y="760.7">AD24</text><text x="1514.3" y="773.7">H26</text><text x="1514" y="791.7">N5</text><text x="1514" y="808.7">A06</text><text x="1514" y="826.7">N3</text><text x="1514" y="845.7">AB8</text><text x="1514" y="863.7">D21</text><text x="1515" y="882.7">V25</text>
<text x="1621.3" y="827.3">R1</text><text x="1621.3" y="844.7">R2</text><text x="1621.3" y="860.7">R6</text><text x="1621.3" y="876.7">R3</text><text x="1621.3" y="893.7">T5</text></g>
<g id="IC8002"><rect class="ic" x="1723" y="629" width="111" height="39"/><text x="1778.3" y="645" class="c t">IC8002</text><text x="1779" y="660.3" class="c h">DDR2</text></g>
<g id="IC8003"><rect class="ic" x="1725" y="687" width="110" height="39"/><text x="1779.7" y="703" class="c t">IC8003</text><text x="1780.7" y="718.3" class="c h">DDR2</text></g>
<g id="IC8554"><rect class="ic" x="1724" y="745" width="110" height="53"/><text x="1780" y="762" class="c t">IC8554</text><text x="1780" y="774.7" class="c h">256Mbit</text><text x="1780" y="788.3" class="c h">NOR FLASH</text></g>
<g id="IC4208" class="p"><rect class="ic" x="1511" y="941" width="118" height="43"/><text x="1585" y="960" class="c t">IC4208</text><text x="1586" y="972" class="c s">REG</text><text x="1517.7" y="967.3">3</text></g>
<g id="IC8004" class="p"><rect class="ic" x="1510" y="1003" width="116" height="71"/><text x="1584.8" y="1036" class="c t">IC8004</text><text x="1585.3" y="1048.3" class="c s">CLOCK GEN</text><text x="1517.3" y="1016.7">4</text><text x="1517.3" y="1034.7">7</text><text x="1517.3" y="1050">9</text><text x="1517.3" y="1069.3">14</text></g>
<g id="IC4700-b" class="p"><rect class="ic" x="1512" y="1103" width="118" height="76"/><text x="1586.4" y="1122.7" class="c t">IC4700</text><text x="1585.9" y="1135.7" class="c s">EEPROM</text><text x="1519.4" y="1129.7">7</text><text x="1519.4" y="1148">6</text><text x="1519.4" y="1168">5</text></g>
<g id="Q4702"><rect class="q" x="1461.6" y="1119.7" width="40.2" height="17"/><text x="1481.7" y="1132.5" class="qt">Q4702</text></g>
<g id="IC4207" class="p"><rect class="ic" x="1513" y="1207" width="111" height="80"/><text x="1566.6" y="1232" class="c t">IC4207</text><text x="1569.3" y="1243.7" class="c s">LVDS</text><text x="1569.3" y="1254.7" class="c s">TRANSMITTER</text><text x="1517.8" y="1278.7">17, 19</text></g>
<g id="IC4206" class="p"><rect class="ic" x="1811" y="957" width="118" height="36"/><text x="1890.6" y="973.7" class="c t">IC4206</text><text x="1891" y="985.3" class="c s">REG</text><text x="1817" y="983.7">3</text></g>
<g id="IC4205" class="p"><rect class="ic" x="1813" y="1009" width="117" height="36"/><text x="1891.7" y="1025.7" class="c t">IC4205</text><text x="1891.7" y="1038" class="c s">REG</text><text x="1818" y="1035.7">3</text></g>
<g id="IC4202" class="p"><rect class="ic" x="1812" y="1059" width="117" height="36"/><text x="1891.7" y="1076" class="c t">IC4202</text><text x="1891" y="1087" class="c s">REG</text><text x="1818" y="1084">5</text></g>
<g id="IC4203" class="p"><rect class="ic" x="1812" y="1109" width="117" height="37"/><text x="1891.7" y="1126" class="c t">IC4203</text><text x="1891.7" y="1139" class="c s">REG</text><text x="1818" y="1134.7">1</text></g>
<g id="IC4204" class="p"><rect class="ic" x="1811" y="1158" width="118" height="36"/><text x="1890.6" y="1175" class="c t">IC4204</text><text x="1893" y="1187" class="c s">REG</text><text x="1818" y="1184.7">3</text></g>
<g id="IC4201"><rect class="ic" x="1838" y="1323" width="110" height="47"/><text x="1891.7" y="1347" class="c t">IC4201</text><text x="1890.6" y="1361.3" class="c s">DDR2</text></g>
<g id="IC4200" class="p"><rect class="ic" x="2060" y="968" width="97" height="411"/><text x="2118.8" y="992.7" class="c t">IC4200</text><text x="2117.8" y="1004.3" class="c n">HQ1L</text><text x="2064.2" y="1003">Y25</text><text x="2064.2" y="1021">Y26</text><text x="2063" y="1040">U24</text><text x="2063" y="1058">V26</text><text x="2064.2" y="1076">U26</text><text x="2064.2" y="1092">U25</text><text x="2064.2" y="1110">W24</text><text x="2064.2" y="1128">W25</text><text x="2064.2" y="1146">W26</text><text x="2064.2" y="1165">V23</text><text x="2064.2" y="1185">V24</text><text x="2064.2" y="1204">V25</text><text x="2066" y="1222">B15</text><text x="2066" y="1241">C14</text></g>
<g id="HDMI1" class="p"><rect class="cb" x="2113.3" y="191.3" width="116.4" height="94"/><text x="2195.7" y="214" class="c" style="font-size:15.5px">HDMI1</text><text x="2195.7" y="229.7" class="c">JK4501</text><text x="2118.7" y="209">13</text><text x="2118.7" y="226">18</text><text x="2118.7" y="244">15</text><text x="2118.7" y="262">16</text><text x="2118.7" y="278">19</text></g>
<g id="HDMI2" class="p"><rect class="cb" x="2113.3" y="306.3" width="116.4" height="94"/><text x="2196.7" y="326.7" class="c" style="font-size:15.5px">HDMI2</text><text x="2196" y="340" class="c">JK4500</text><text x="2118.7" y="323">13</text><text x="2118.7" y="340">18</text><text x="2118.7" y="358">15</text><text x="2118.7" y="376">16</text><text x="2118.7" y="394">19</text></g>
<g id="HDMI3" class="p"><rect class="cb" x="2115.3" y="422.3" width="116.4" height="94"/><text x="2199.7" y="442" class="c" style="font-size:15.5px">HDMI3</text><text x="2199" y="454.7" class="c">JK4700</text><text x="2120.7" y="441">13</text><text x="2120.7" y="458">18</text><text x="2120.7" y="474">15</text><text x="2120.7" y="492">16</text><text x="2120.7" y="509">19</text></g>
<g id="JK8401"><rect class="cb" x="2143.7" y="537.3" width="61" height="58"/><path class="thin" d="M2144 562.7H2204" style="stroke:#999"/><text x="2175" y="558.7" class="c t">JK8401</text><text x="2175.7" y="583.3" class="c h">CI SLOT</text></g>
<g id="JK8801"><rect class="cb" x="2143.3" y="630.3" width="62" height="55"/><path class="thin" d="M2144 656H2205" style="stroke:#999"/><text x="2175.7" y="652" class="c t">JK8801</text><text x="2176" y="675" class="c h">SD SLOT</text></g>
<g id="CN0100" class="p"><rect class="cb" x="2142.7" y="700.7" width="60.6" height="118.3"/><path class="thin" d="M2143 719.3H2203" style="stroke:#777"/><text x="2172.3" y="716" class="c t">CN0100</text><g style="text-anchor:middle"><text x="2171" y="737.3">2</text><text x="2171" y="754.7">4</text><text x="2171" y="774.7">5</text><text x="2171" y="793.3">6</text><text x="2171" y="811.7">7</text></g><text transform="rotate(-90 2224.3 765)" x="2224.3" y="765" class="c" style="font-size:15px">SERVICE</text></g>
<g id="A10" class="p"><rect class="cb" x="2150.3" y="851.3" width="39" height="67"/><path class="thin" d="M2150 881.3H2189"/><text x="2170" y="871" class="c t">A10</text><text x="2169.3" y="903.3" class="c">1</text><text transform="rotate(-90 2209.3 890.3)" x="2209.3" y="890.3" class="c t">KEY CONTROL</text></g>
<g id="LCD-CONNECTOR"><rect class="cb" x="1528" y="1406" width="91" height="65"/><path class="thin" d="M1528 1433H1619"/></g>
<g id="LCD-PANEL"><text x="1784" y="1504" class="c" style="font-size:32px">LCD PANEL</text></g>
<g id="A7"><rect class="cb" x="265.5" y="1132.4" width="89.5" height="36.9"/><path class="thin" d="M299.2 1132V1169"/><g style="font-size:14px;text-anchor:middle"><text x="284.6" y="1154.4">A7</text><text x="313" y="1154.4">6</text><text x="337.4" y="1154.4">15</text></g></g>
<g id="P2"><rect class="cb" x="264.7" y="1201.4" width="90.3" height="32.1"/><path class="thin" d="M299.2 1201V1233"/><g style="font-size:14px;text-anchor:middle"><text x="283" y="1222.7">P2</text><text x="311.4" y="1222.7">6</text><text x="335" y="1222.7">15</text></g></g>
<g id="A12"><rect class="cb" x="636" y="1133.4" width="89.4" height="36.9"/><path class="thin" d="M669.6 1133V1170"/><g style="font-size:14px;text-anchor:middle"><text x="653.5" y="1155.8">A12</text><text x="691" y="1155.8">4</text></g></g>
<g id="K1"><rect class="cb" x="634.4" y="1205.5" width="91" height="31.7"/><path class="thin" d="M669.6 1205V1237"/><g style="font-size:14px;text-anchor:middle"><text x="653.5" y="1227">K1</text><text x="691" y="1227">4</text></g></g>
<g id="SW2501"><rect class="wb" x="633.5" y="1361" width="86" height="56"/><text x="672.7" y="1394.8" class="c t">SW2501</text></g>
<g id="Q852"><rect class="q" x="336" y="1355.6" width="41.2" height="17.2"/><text x="356.6" y="1368.5" class="qt">Q852</text></g>
<g id="Q851"><rect class="q" x="335.2" y="1426.5" width="40.5" height="18.3"/><text x="355.5" y="1440" class="qt">Q851</text></g>
<g id="RL801"><rect class="wb" x="427" y="1346" width="76.5" height="43"/><text x="463.7" y="1373.5" class="c t">RL801</text></g>
<g id="PC801"><rect class="wb" x="425.5" y="1411" width="76.5" height="44"/><text x="462" y="1438" class="c t">PC801</text></g>
<g id="RM2501"><rect class="ic" x="784.4" y="1228.4" width="106.3" height="44"/><text x="824" y="1247.4" class="c t">RM2501</text><text x="824" y="1262.3" class="c s">REMOTE</text><text x="876.2" y="1252.8" class="c" style="font-size:11px">OUT</text></g>
<g id="SN2551"><rect class="ic" x="789.8" y="1423.8" width="66.4" height="40"/><text x="821" y="1439.7" class="c t">SN2551</text><text x="821" y="1453.6" class="c s">PHOTO IC</text></g>
<g id="D2501"><rect class="b" x="796.6" y="1316.3" width="39.8" height="37.6"/><text x="816.5" y="1339.5" class="qt">D2501</text></g>
<g id="D2503"><rect class="b" x="796.6" y="1359.3" width="39.8" height="19.6"/><text x="816.5" y="1373.5" class="qt">D2503</text></g>
<g id="Q2506"><rect class="q" x="877.8" y="1315.3" width="38.2" height="18"/><text x="897" y="1328.5" class="qt">Q2506</text></g>
<g id="Q2505"><rect class="q" x="877.8" y="1338.3" width="38.2" height="18.3"/><text x="897" y="1351.5" class="qt">Q2505</text></g>
<g id="Q2504"><rect class="q" x="955.8" y="1292.3" width="39.8" height="18"/><text x="975.7" y="1305.5" class="qt">Q2504</text></g>
<g id="Q2502"><rect class="q" x="955.8" y="1315" width="39.8" height="17.6"/><text x="975.7" y="1328" class="qt">Q2502</text></g>
<g id="Q2501"><rect class="q" x="956.6" y="1338.3" width="39.8" height="17.6"/><text x="976.5" y="1351.5" class="qt">Q2501</text></g>
<g id="Q2503"><rect class="q" x="956.6" y="1361.3" width="39.8" height="17.6"/><text x="976.5" y="1374.5" class="qt">Q2503</text></g>
<g id="V1" class="p"><rect class="cb" x="1127.2" y="1252.8" width="42.8" height="159.6"/><path class="thin" d="M1127 1281.5H1170" style="stroke:#999"/><text x="1147" y="1272.7" class="c t">V1</text><g style="text-anchor:middle;font-size:14px"><text x="1147" y="1300.4">5</text><text x="1147" y="1322.8">4</text><text x="1147" y="1346.8">2</text><text x="1147" y="1370.8">7</text><text x="1147" y="1395">6</text></g></g>
<g id="A1" class="p"><rect class="cb" x="1209.9" y="1252.8" width="43.6" height="158.5"/><path class="thin" d="M1210 1281.5H1253" style="stroke:#999"/><text x="1230.5" y="1272.7" class="c t">A1</text><g style="text-anchor:middle;font-size:14px"><text x="1230.5" y="1300.4">5</text><text x="1230.5" y="1322.8">4</text><text x="1230.5" y="1346.8">2</text><text x="1230.5" y="1370.8">7</text><text x="1230.5" y="1395">6</text></g></g>
</svg>
